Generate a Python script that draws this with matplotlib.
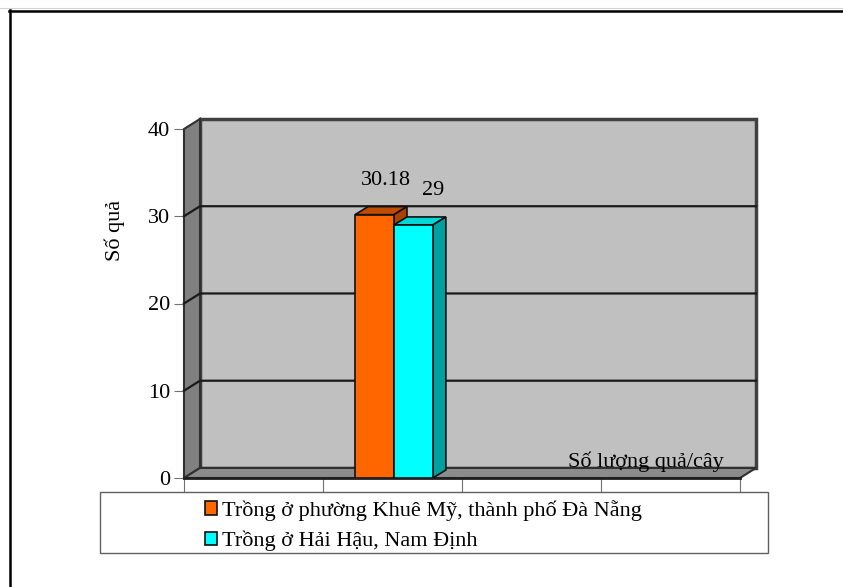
import matplotlib
matplotlib.use("Agg")
import matplotlib.pyplot as plt
from matplotlib.patches import Polygon, Rectangle
from matplotlib.lines import Line2D

plt.rcParams['font.family'] = ['Liberation Serif', 'DejaVu Serif']

# data
series = ["Trồng ở phường Khuê Mỹ, thành phố Đà Nẵng", "Trồng ở Hải Hậu, Nam Định"]
values = [30.18, 29]
value_labels = ["30.18", "29"]
category = "Số lượng quả/cây"
y_ticks = [0, 10, 20, 30, 40]

front_colors = ["#FF6600", "#00FFFF"]
top_colors = ["#C04C00", "#00D8D8"]
side_colors = ["#A84200", "#00A0A0"]

FS = 16
W, H = 843, 587
fig = plt.figure(figsize=(W / 100, H / 100), dpi=100)


def px_box(x0, y0, x1, y1):
    # pixel box (top-left origin) -> figure fraction rect
    return [x0 / W, 1 - y1 / H, (x1 - x0) / W, (y1 - y0) / H]


ax = fig.add_axes(px_box(184, 129, 740, 478))
ax.set_xlim(0, 4)
ax.set_ylim(0, 40)
for s in ax.spines.values():
    s.set_visible(False)
ax.patch.set_visible(False)

# 3D depth of walls and bars in data units
dxw, dyw = 0.115, 1.15
dxb, dyb = 0.094, 0.92

# back wall
ax.add_patch(Rectangle((dxw, dyw), 4, 40, facecolor="#C0C0C0", edgecolor="#404040",
                       lw=2.5, clip_on=False, zorder=1))
# side wall
ax.add_patch(Polygon([(0, 0), (dxw, dyw), (dxw, 40 + dyw), (0, 40)], closed=True,
                     facecolor="#808080", edgecolor="#303030", lw=1.5, clip_on=False, zorder=2))
# floor
ax.add_patch(Polygon([(0, 0), (4, 0), (4 + dxw, dyw), (dxw, dyw)], closed=True,
                     facecolor="#8C8C8C", edgecolor="#303030", lw=1.5, clip_on=False, zorder=2))
ax.plot([0, 4], [0, 0], color="#202020", lw=2, clip_on=False, zorder=3)

# gridlines on side and back walls
for v in y_ticks[1:-1]:
    ax.plot([0, dxw, 4 + dxw], [v, v + dyw, v + dyw], color="#1A1A1A", lw=1.6,
            clip_on=False, zorder=3)

# bars
bar_w = 0.28
bar_x = [1.23, 1.51]
label_dx = [0.08, 0.14]
handles = []
for i, (x0, v) in enumerate(zip(bar_x, values)):
    z = 5 + i * 2
    b = ax.bar(x0, v, width=bar_w, align="edge", color=front_colors[i],
               edgecolor="#101010", lw=1.2, zorder=z + 1)
    handles.append(b)
    ax.add_patch(Polygon([(x0, v), (x0 + bar_w, v), (x0 + bar_w + dxb, v + dyb), (x0 + dxb, v + dyb)],
                         closed=True, facecolor=top_colors[i], edgecolor="#101010", lw=1.2, zorder=z))
    ax.add_patch(Polygon([(x0 + bar_w, 0), (x0 + bar_w + dxb, dyb), (x0 + bar_w + dxb, v + dyb), (x0 + bar_w, v)],
                         closed=True, facecolor=side_colors[i], edgecolor="#101010", lw=1.2, zorder=z))
    ax.text(x0 + bar_w / 2 + label_dx[i], v + 3.9, value_labels[i], ha="center", va="center",
            fontsize=FS, zorder=10)

ax.text(3.32, 1.9, category, ha="center", va="center", fontsize=FS, zorder=10)

# axes ticks
ax.set_yticks(y_ticks)
ax.set_yticklabels([str(t) for t in y_ticks], fontsize=FS)
ax.set_xticks([0, 1, 2, 3, 4])
ax.set_xticklabels([])
ax.tick_params(axis="y", length=7, color="#707070", pad=3)
ax.tick_params(axis="x", length=10, color="#707070")

fig.text(115 / W, 1 - 230 / H, "Số quả", rotation=90, ha="center", va="center", fontsize=FS)

# legend with its own frame
fig.add_artist(Rectangle((100 / W, 1 - 553 / H), 668 / W, 61 / H, transform=fig.transFigure,
                         facecolor="white", edgecolor="#606060", lw=1))
leg = fig.legend(handles, series, loc="upper left", bbox_to_anchor=(205 / W, 1 - 500 / H),
                 bbox_transform=fig.transFigure, frameon=False, fontsize=FS,
                 handlelength=0.55, handleheight=0.55, handletextpad=0.2, labelspacing=0.45,
                 borderpad=0, borderaxespad=0)

# outer frame
fig.add_artist(Line2D([0, 1], [1 - 8 / H, 1 - 8 / H], transform=fig.transFigure,
                      color="#D4D4D4", lw=0.8))
fig.add_artist(Line2D([9.5 / W, 9.5 / W], [0, 1 - 10 / H], transform=fig.transFigure,
                      color="black", lw=1.8))
fig.add_artist(Line2D([9 / W, 1], [1 - 10.5 / H, 1 - 10.5 / H], transform=fig.transFigure,
                      color="black", lw=1.8))

fig.savefig("out.png", dpi=100)
